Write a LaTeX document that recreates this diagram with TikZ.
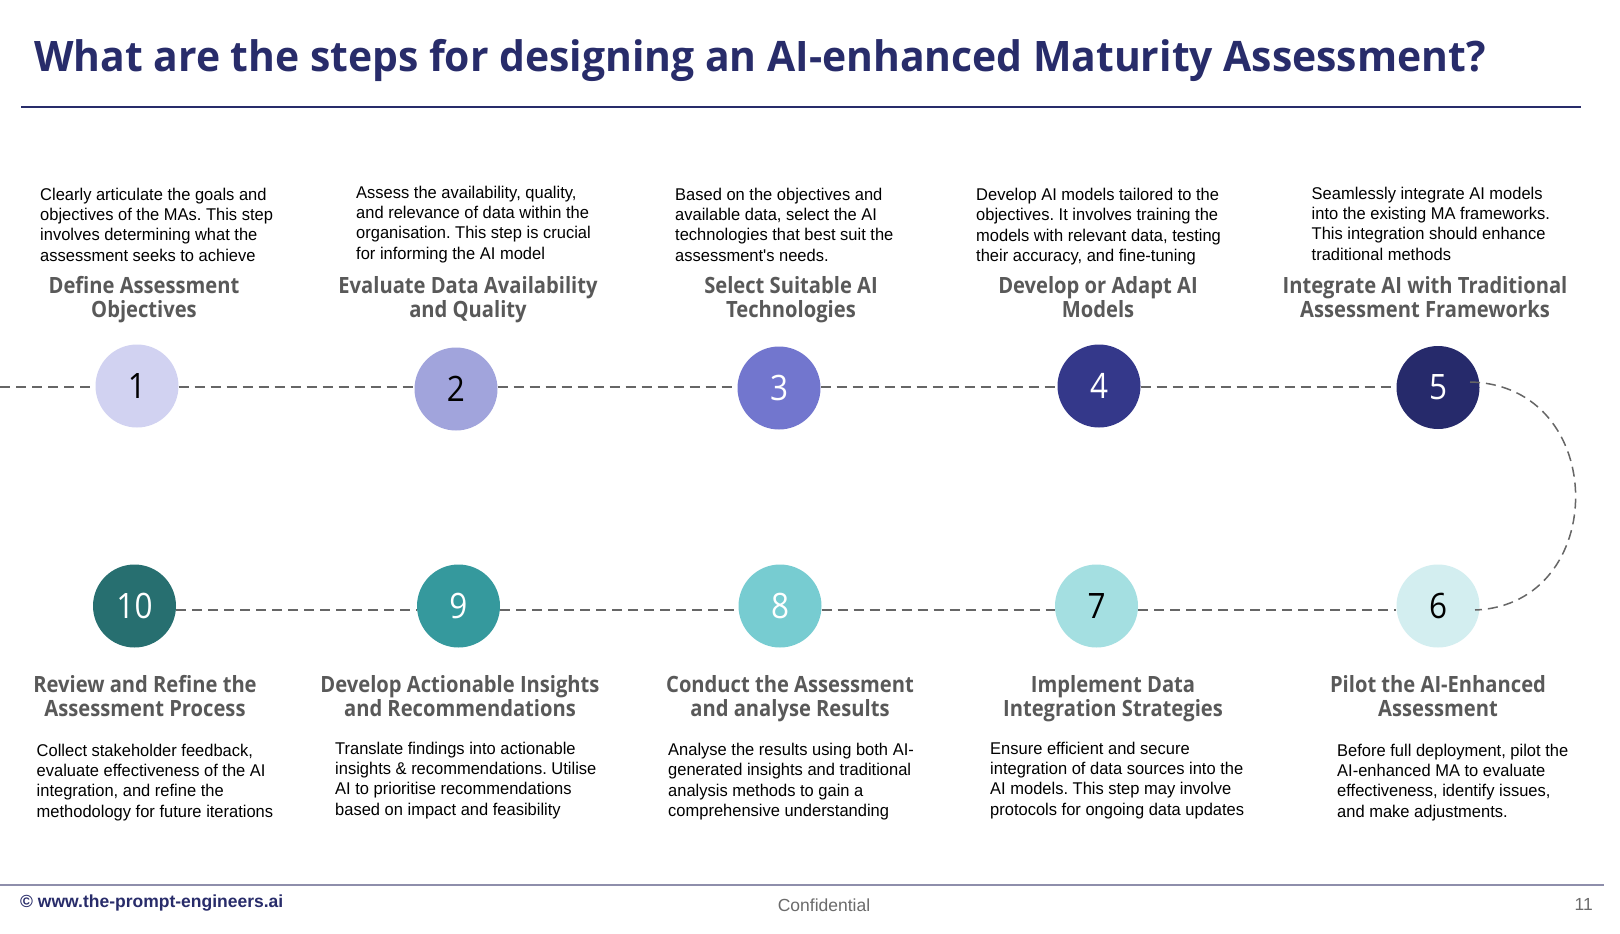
\documentclass[tikz,border=0pt]{standalone}
\usepackage{fontspec}
\setmainfont{Liberation Sans}
\newfontfamily\headfont[FakeStretch=0.9]{Open Sans}
\newfontfamily\titlefont[FakeStretch=0.973]{Open Sans}
\newfontfamily\bodyfont[FakeStretch=0.97]{Liberation Sans}
\frenchspacing
\definecolor{navy}{HTML}{282C6A}
\definecolor{headgray}{HTML}{595959}
\definecolor{linegray}{HTML}{666666}
\definecolor{footline}{HTML}{8E8EAB}
\definecolor{foottext}{HTML}{6B6B6B}
\definecolor{cA}{HTML}{D1D2F1}
\definecolor{cB}{HTML}{A1A4DC}
\definecolor{cC}{HTML}{7276CE}
\definecolor{cD}{HTML}{34388A}
\definecolor{cE}{HTML}{262A6B}
\definecolor{cF}{HTML}{D3EEF0}
\definecolor{cG}{HTML}{A4DFE1}
\definecolor{cH}{HTML}{77CCD1}
\definecolor{cI}{HTML}{35999D}
\definecolor{cJ}{HTML}{276F70}
\begin{document}
\begin{tikzpicture}[x=1pt,y=-1pt,
  stepcircle/.style={circle, minimum size=83pt, inner sep=0pt, font=\headfont\fontsize{35}{35}\selectfont},
  headtext/.style={align=center, anchor=base, inner sep=0pt, text=headgray, font=\headfont\bfseries\fontsize{22.4}{23.7}\selectfont},
  bodytext/.style={align=left, anchor=base west, inner sep=0pt, text=black, font=\bodyfont\fontsize{17}{20.3}\selectfont},
  dashline/.style={draw=linegray, line width=1.5pt, dash pattern=on 10pt off 6pt},
]
\useasboundingbox (0,0) rectangle (1620,934);
\fill[white] (0,0) rectangle (1620,934);

% title
\node[anchor=base west, inner sep=0pt, text=navy, font=\titlefont\bfseries\fontsize{42}{42}\selectfont] (title) at (34,72) {What are the steps for designing an AI-enhanced Maturity Assessment?};
\coordinate (trA) at (21,107);
\coordinate (trB) at (1581,107);
\draw[navy, line width=2.7pt] (trA) -- (trB);

% circles
\node[stepcircle, fill=cA, text=black] (c1) at (137,386) {1};
\node[stepcircle, fill=cB, text=black] (c2) at (456,389) {2};
\node[stepcircle, fill=cC, text=white] (c3) at (779,388) {3};
\node[stepcircle, fill=cD, text=white] (c4) at (1099,386) {4};
\node[stepcircle, fill=cE, text=white] (c5) at (1438,387.5) {5};
\node[stepcircle, fill=cF, text=black] (c6) at (1438,606) {6};
\node[stepcircle, fill=cG, text=black] (c7) at (1096.5,606) {7};
\node[stepcircle, fill=cH, text=white] (c8) at (780,606) {8};
\node[stepcircle, fill=cI, text=white] (c9) at (458.5,606) {9};
\node[stepcircle, fill=cJ, text=white] (c10) at (134.5,606) {10};

% dashed connectors
\coordinate (lstart) at (0,387);
\coordinate (lbot) at (0,610);
\path[dashline] (lstart) -- (c1.west |- lstart);
\path[dashline] (c1.east |- lstart) -- (c2.west |- lstart);
\path[dashline] (c2.east |- lstart) -- (c3.west |- lstart);
\path[dashline] (c3.east |- lstart) -- (c4.west |- lstart);
\path[dashline] (c4.east |- lstart) -- (c5.west |- lstart);
\path[dashline] (c10.east |- lbot) -- (c9.west |- lbot);
\path[dashline] (c9.east |- lbot) -- (c8.west |- lbot);
\path[dashline] (c8.east |- lbot) -- (c7.west |- lbot);
\path[dashline] (c7.east |- lbot) -- (c6.west |- lbot);
\path[dashline] ([xshift=32pt,yshift=5.5pt]c5.center) .. controls +(140,3) and +(135,-5) .. ([xshift=37pt,yshift=-4pt]c6.center);

% headings (anchor = baseline of last line)
\node[headtext] (h1) at (144,317) {Define Assessment\\Objectives};
\node[headtext] (h2) at (468,317) {Evaluate Data Availability\\and Quality};
\node[headtext] (h3) at (791,317) {Select Suitable AI\\Technologies};
\node[headtext] (h4) at (1098,317) {Develop or Adapt AI\\Models};
\node[headtext] (h5) at (1425,317) {Integrate AI with Traditional\\Assessment Frameworks};
\node[headtext] (h10) at (145,716) {Review and Refine the\\Assessment Process};
\node[headtext] (h9) at (460,716) {Develop Actionable Insights\\and Recommendations};
\node[headtext] (h8) at (790,716) {Conduct the Assessment\\and analyse Results};
\node[headtext] (h7) at (1113,716) {Implement Data\\Integration Strategies};
\node[headtext] (h6) at (1438,716) {Pilot the AI-Enhanced\\Assessment};

% body texts (anchor = baseline of last line)
\node[bodytext] (t1) at (40,261) {Clearly articulate the goals and\\objectives of the MAs. This step\\involves determining what the\\assessment seeks to achieve};
\node[bodytext] (t2) at (356,259) {Assess the availability, quality,\\and relevance of data within the\\organisation. This step is crucial\\for informing the AI model};
\node[bodytext] (t3) at (675,261) {Based on the objectives and\\available data, select the AI\\technologies that best suit the\\assessment's needs.};
\node[bodytext] (t4) at (976,261.5) {Develop AI models tailored to the\\objectives. It involves training the\\models with relevant data, testing\\their accuracy, and fine-tuning};
\node[bodytext] (t5) at (1311.5,260) {Seamlessly integrate AI models\\into the existing MA frameworks.\\This integration should enhance\\traditional methods};
\node[bodytext] (t10) at (36.5,817) {Collect stakeholder feedback,\\evaluate effectiveness of the AI\\integration, and refine the\\methodology for future iterations};
\node[bodytext] (t9) at (335,815) {Translate findings into actionable\\insights \& recommendations. Utilise\\AI to prioritise recommendations\\based on impact and feasibility};
\node[bodytext] (t8) at (668,816.5) {Analyse the results using both AI-\\generated insights and traditional\\analysis methods to gain a\\comprehensive understanding};
\node[bodytext] (t7) at (990,815) {Ensure efficient and secure\\integration of data sources into the\\AI models. This step may involve\\protocols for ongoing data updates};
\node[bodytext] (t6) at (1337,817) {Before full deployment, pilot the\\AI-enhanced MA to evaluate\\effectiveness, identify issues,\\and make adjustments.};

% footer
\coordinate (frA) at (0,885);
\coordinate (frB) at (1604,885);
\draw[footline, line width=1.8pt] (frA) -- (frB);
\node[anchor=base west, inner sep=0pt, text=navy, font=\bfseries\fontsize{17.5}{17.5}\selectfont] (copy) at (20,907) {© www.the-prompt-engineers.ai};
\node[anchor=base, inner sep=0pt, text=foottext, font=\fontsize{17.5}{17.5}\selectfont] (conf) at (824,911) {Confidential};
\node[anchor=base east, inner sep=0pt, text=foottext, font=\fontsize{17.5}{17.5}\selectfont] (pnum) at (1593,910) {11};
\end{tikzpicture}
\end{document}
